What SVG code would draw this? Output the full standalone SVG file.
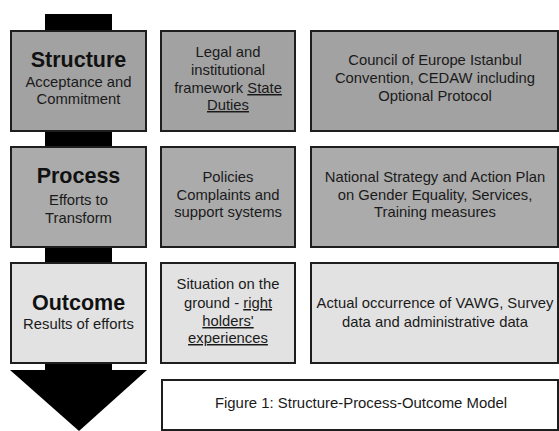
<svg xmlns="http://www.w3.org/2000/svg" width="559" height="431" viewBox="0 0 559 431">
<style>
  text { font-family: "Liberation Sans", Arial, sans-serif; fill: #1a1a1a; text-anchor: middle; }
  .t { font-size: 14.8px; }
  .h { font-size: 21.5px; font-weight: bold; fill: #111; }
  .cap { font-size: 14.9px; }
  .box { stroke: #1e1e1e; stroke-width: 2; }
  .s { fill: #a2a2a2; }
  .p { fill: #ababab; }
  .o { fill: #e2e2e2; }
  .w { fill: #ffffff; }
  .u { text-decoration: underline; }
</style>
<rect x="0" y="0" width="559" height="431" fill="#ffffff"/>
<g id="connectors">
  <rect x="45" y="14" width="67" height="357" fill="#000"/>
  <polygon points="10,370 147,370 79,431" fill="#000"/>
</g>
<g id="structure">
  <rect class="box s" x="11" y="31" width="135" height="100"/>
  <text class="h" x="78.5" y="67">Structure</text>
  <text class="t" x="78.5" y="87">Acceptance and</text>
  <text class="t" x="78.5" y="104">Commitment</text>
</g>
<g id="structure-duties">
  <rect class="box s" x="161" y="31" width="134" height="100"/>
  <text class="t" x="228" y="57">Legal and</text>
  <text class="t" x="228" y="75">institutional</text>
  <text class="t" x="228" y="93">framework <tspan class="u">State</tspan></text>
  <text class="t u" x="228" y="110">Duties</text>
</g>
<g id="structure-examples">
  <rect class="box s" x="311" y="31" width="247" height="100"/>
  <text class="t" x="435" y="65">Council of Europe Istanbul</text>
  <text class="t" x="435" y="83">Convention, CEDAW including</text>
  <text class="t" x="435" y="101">Optional Protocol</text>
</g>
<g id="process">
  <rect class="box p" x="11" y="147" width="135" height="100"/>
  <text class="h" x="78.5" y="183">Process</text>
  <text class="t" x="78.5" y="205">Efforts to</text>
  <text class="t" x="78.5" y="223">Transform</text>
</g>
<g id="process-policies">
  <rect class="box p" x="161" y="147" width="134" height="100"/>
  <text class="t" x="228" y="182">Policies</text>
  <text class="t" x="228" y="200">Complaints and</text>
  <text class="t" x="228" y="217">support systems</text>
</g>
<g id="process-examples">
  <rect class="box p" x="311" y="147" width="247" height="100"/>
  <text class="t" x="435" y="182">National Strategy and Action Plan</text>
  <text class="t" x="435" y="200">on Gender Equality, Services,</text>
  <text class="t" x="435" y="217">Training measures</text>
</g>
<g id="outcome">
  <rect class="box o" x="11" y="263" width="135" height="100"/>
  <text class="h" x="78.5" y="310">Outcome</text>
  <text class="t" x="78.5" y="329">Results of efforts</text>
</g>
<g id="outcome-situation">
  <rect class="box o" x="161" y="263" width="134" height="100"/>
  <text class="t" x="228" y="289">Situation on the</text>
  <text class="t" x="228" y="308">ground - <tspan class="u">right</tspan></text>
  <text class="t u" x="228" y="326">holders'</text>
  <text class="t u" x="228" y="343">experiences</text>
</g>
<g id="outcome-examples">
  <rect class="box o" x="311" y="263" width="247" height="100"/>
  <text class="t" x="435" y="308">Actual occurrence of VAWG, Survey</text>
  <text class="t" x="435" y="327">data and administrative data</text>
</g>
<g id="caption">
  <rect class="box w" x="162" y="380" width="396" height="50"/>
  <text class="cap" x="361" y="408">Figure 1: Structure-Process-Outcome Model</text>
</g>
</svg>
